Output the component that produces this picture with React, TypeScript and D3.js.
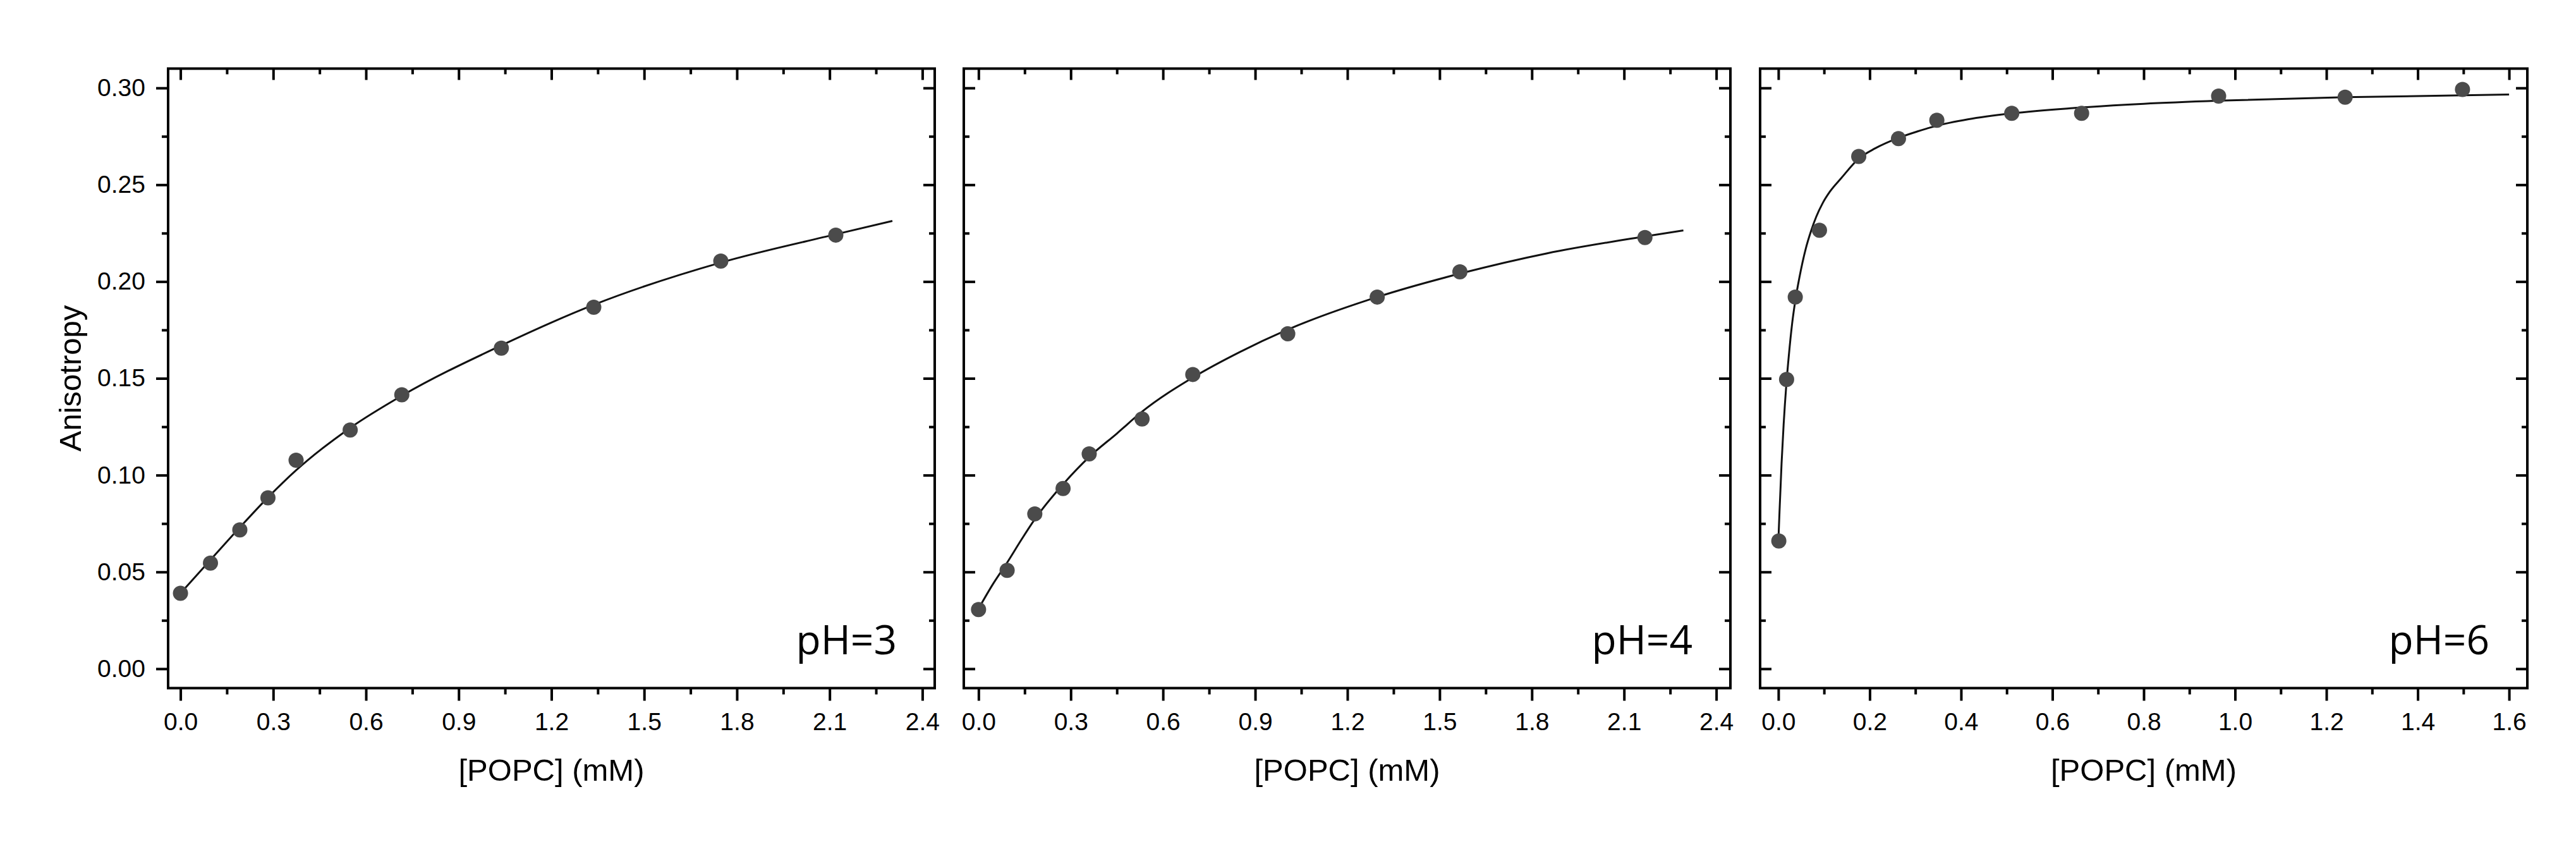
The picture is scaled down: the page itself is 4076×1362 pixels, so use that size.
import React, { useRef, useEffect } from "react";
import * as d3 from "d3";

const W = 4076;
const H = 1362;
const FONT = "'Liberation Sans', Arial, sans-serif";
const LABEL_FONT = "'Open Sans', 'Noto Sans', sans-serif";

// pH = 3
const ph3X = [0, 0.097, 0.192, 0.283, 0.374, 0.549, 0.716, 1.038, 1.337, 1.748, 2.12];
const ph3Y = [0.039, 0.0546, 0.0717, 0.0883, 0.1077, 0.1233, 0.1415, 0.1656, 0.1867, 0.2106, 0.224];
const ph3FitX = [0, 0.097, 0.192, 0.283, 0.374, 0.549, 0.716, 1.038, 1.337, 1.748, 2.12, 2.303];
const ph3FitY = [0.039, 0.0562, 0.073, 0.0885, 0.1025, 0.1244, 0.141, 0.167, 0.188, 0.2098, 0.2244, 0.2313];

// pH = 4
const ph4X = [0, 0.093, 0.183, 0.275, 0.36, 0.532, 0.697, 1.006, 1.297, 1.566, 2.168];
const ph4Y = [0.0306, 0.0508, 0.08, 0.0931, 0.111, 0.129, 0.152, 0.173, 0.192, 0.205, 0.2227];
const ph4FitX = [0, 0.046, 0.093, 0.14, 0.183, 0.275, 0.36, 0.45, 0.532, 0.697, 0.85, 1.006, 1.297, 1.566, 1.85, 2.168, 2.293];
const ph4FitY = [0.031, 0.0435, 0.0548, 0.0668, 0.0772, 0.0953, 0.1094, 0.1215, 0.1328, 0.1504, 0.1636, 0.1752, 0.192, 0.2041, 0.2146, 0.2233, 0.2264];

// pH = 6
const ph6X = [0.001, 0.018, 0.037, 0.09, 0.176, 0.263, 0.347, 0.511, 0.664, 0.964, 1.241, 1.498];
const ph6Y = [0.066, 0.1494, 0.192, 0.2265, 0.2646, 0.2738, 0.2833, 0.2869, 0.2869, 0.2958, 0.2952, 0.2992];
const ph6FitX = [0, 0.0025, 0.007, 0.0115, 0.0175, 0.023, 0.03, 0.037, 0.046, 0.06, 0.0714, 0.083, 0.097, 0.113, 0.138, 0.176, 0.212, 0.263, 0.304, 0.347, 0.415, 0.512, 0.645, 0.8, 0.964, 1.241, 1.6];
const ph6FitY = [0.066, 0.081, 0.106, 0.126, 0.147, 0.162, 0.178, 0.19, 0.202, 0.217, 0.226, 0.2335, 0.2405, 0.2465, 0.2535, 0.2635, 0.2688, 0.2742, 0.2775, 0.2805, 0.2838, 0.2869, 0.2896, 0.2918, 0.2934, 0.2952, 0.2966];

// axis ticks
const xMajorWide = [0, 0.3, 0.6, 0.9, 1.2, 1.5, 1.8, 2.1, 2.4];
const xMinorWide = [0.15, 0.45, 0.75, 1.05, 1.35, 1.65, 1.95, 2.25];
const xMajorNarrow = [0, 0.2, 0.4, 0.6, 0.8, 1.0, 1.2, 1.4, 1.6];
const xMinorNarrow = [0.1, 0.3, 0.5, 0.7, 0.9, 1.1, 1.3, 1.5];
const yMajor = [0, 0.05, 0.1, 0.15, 0.2, 0.25, 0.3];
const yMinor = [0.025, 0.075, 0.125, 0.175, 0.225, 0.275];

const panels = [
  { xs: ph3X, ys: ph3Y, fx: ph3FitX, fy: ph3FitY, left: 266, right: 1479, domain: [-0.04, 2.44], major: xMajorWide, minor: xMinorWide, label: "pH=3", first: true },
  { xs: ph4X, ys: ph4Y, fx: ph4FitX, fy: ph4FitY, left: 1525, right: 2738, domain: [-0.048, 2.446], major: xMajorWide, minor: xMinorWide, label: "pH=4", first: false },
  { xs: ph6X, ys: ph6Y, fx: ph6FitX, fy: ph6FitY, left: 2785, right: 3999, domain: [-0.04, 1.64], major: xMajorNarrow, minor: xMinorNarrow, label: "pH=6", first: false },
];

const plotTop = 108.5;
const plotBottom = 1088.5;

export default function App() {
  const svgRef = useRef<SVGSVGElement>(null);

  useEffect(() => {
    const svg = d3.select(svgRef.current);
    svg.selectAll("*").remove();

    const y = d3.scaleLinear().domain([-0.01, 0.31]).range([plotBottom, plotTop]);
    const blank = () => "";

    const styleAxis = (sel: any) => {
      sel.select(".domain").remove();
      sel.attr("font-size", null).attr("font-family", null);
      sel.selectAll("line").attr("stroke", "#000").attr("stroke-width", 4);
      sel.selectAll("text").attr("font-size", 39).attr("font-family", FONT).attr("fill", "#000");
    };

    panels.forEach((p) => {
      const x = d3.scaleLinear().domain(p.domain).range([p.left, p.right]);
      const g = svg.append("g");

      // bottom
      g.append("g")
        .attr("transform", `translate(0,${plotBottom})`)
        .call(d3.axisBottom(x).tickValues(p.major).tickSize(20).tickPadding(19).tickFormat(d3.format(".1f")))
        .call(styleAxis);
      g.append("g")
        .attr("transform", `translate(0,${plotBottom})`)
        .call(d3.axisBottom(x).tickValues(p.minor).tickSize(10).tickFormat(blank))
        .call(styleAxis);

      // top (inward)
      g.append("g")
        .attr("transform", `translate(0,${plotTop})`)
        .call(d3.axisTop(x).tickValues(p.major).tickSize(-18).tickFormat(blank))
        .call(styleAxis);
      g.append("g")
        .attr("transform", `translate(0,${plotTop})`)
        .call(d3.axisTop(x).tickValues(p.minor).tickSize(-9).tickFormat(blank))
        .call(styleAxis);

      // left
      if (p.first) {
        g.append("g")
          .attr("transform", `translate(${p.left},0)`)
          .call(d3.axisLeft(y).tickValues(yMajor).tickSize(19).tickPadding(17).tickFormat(d3.format(".2f")))
          .call(styleAxis);
        g.append("g")
          .attr("transform", `translate(${p.left},0)`)
          .call(d3.axisLeft(y).tickValues(yMinor).tickSize(10).tickFormat(blank))
          .call(styleAxis);
      } else {
        g.append("g")
          .attr("transform", `translate(${p.left},0)`)
          .call(d3.axisLeft(y).tickValues(yMajor).tickSize(-18).tickFormat(blank))
          .call(styleAxis);
        g.append("g")
          .attr("transform", `translate(${p.left},0)`)
          .call(d3.axisLeft(y).tickValues(yMinor).tickSize(-9).tickFormat(blank))
          .call(styleAxis);
      }

      // right (inward)
      g.append("g")
        .attr("transform", `translate(${p.right},0)`)
        .call(d3.axisRight(y).tickValues(yMajor).tickSize(-18).tickFormat(blank))
        .call(styleAxis);
      g.append("g")
        .attr("transform", `translate(${p.right},0)`)
        .call(d3.axisRight(y).tickValues(yMinor).tickSize(-9).tickFormat(blank))
        .call(styleAxis);

      // frame
      g.append("rect")
        .attr("x", p.left)
        .attr("y", plotTop)
        .attr("width", p.right - p.left)
        .attr("height", plotBottom - plotTop)
        .attr("fill", "none")
        .attr("stroke", "#000")
        .attr("stroke-width", 4);

      // fit curve
      const fit = p.fx.map((v, i) => [v, p.fy[i]]);
      const line = d3
        .line<number[]>()
        .x((d) => x(d[0]))
        .y((d) => y(d[1]))
        .curve(d3.curveMonotoneX);
      g.append("path")
        .datum(fit)
        .attr("fill", "none")
        .attr("stroke", "#111")
        .attr("stroke-width", 3)
        .attr("d", line);

      // points
      g.selectAll("circle.pt")
        .data(p.xs.map((v, i) => [v, p.ys[i]]))
        .enter()
        .append("circle")
        .attr("class", "pt")
        .attr("cx", (d) => x(d[0]))
        .attr("cy", (d) => y(d[1]))
        .attr("r", 12)
        .attr("fill", "#4b4b4b");

      // pH label
      g.append("text")
        .attr("x", p.right - 60)
        .attr("y", 1035)
        .attr("text-anchor", "end")
        .attr("font-family", LABEL_FONT)
        .attr("font-size", 64)
        .attr("fill", "#000")
        .text(p.label);

      // x title
      g.append("text")
        .attr("x", (p.left + p.right) / 2)
        .attr("y", 1235)
        .attr("text-anchor", "middle")
        .attr("font-family", FONT)
        .attr("font-size", 49)
        .attr("fill", "#000")
        .text("[POPC] (mM)");
    });

    // y title
    svg
      .append("text")
      .attr("transform", `translate(128, ${(plotTop + plotBottom) / 2}) rotate(-90)`)
      .attr("text-anchor", "middle")
      .attr("font-family", FONT)
      .attr("font-size", 49)
      .attr("fill", "#000")
      .text("Anisotropy");

    return () => {
      svg.selectAll("*").remove();
    };
  }, []);

  return (
    <svg
      ref={svgRef}
      width={W}
      height={H}
      style={{ position: "absolute", left: 0, top: 0, background: "#fff" }}
    />
  );
}
